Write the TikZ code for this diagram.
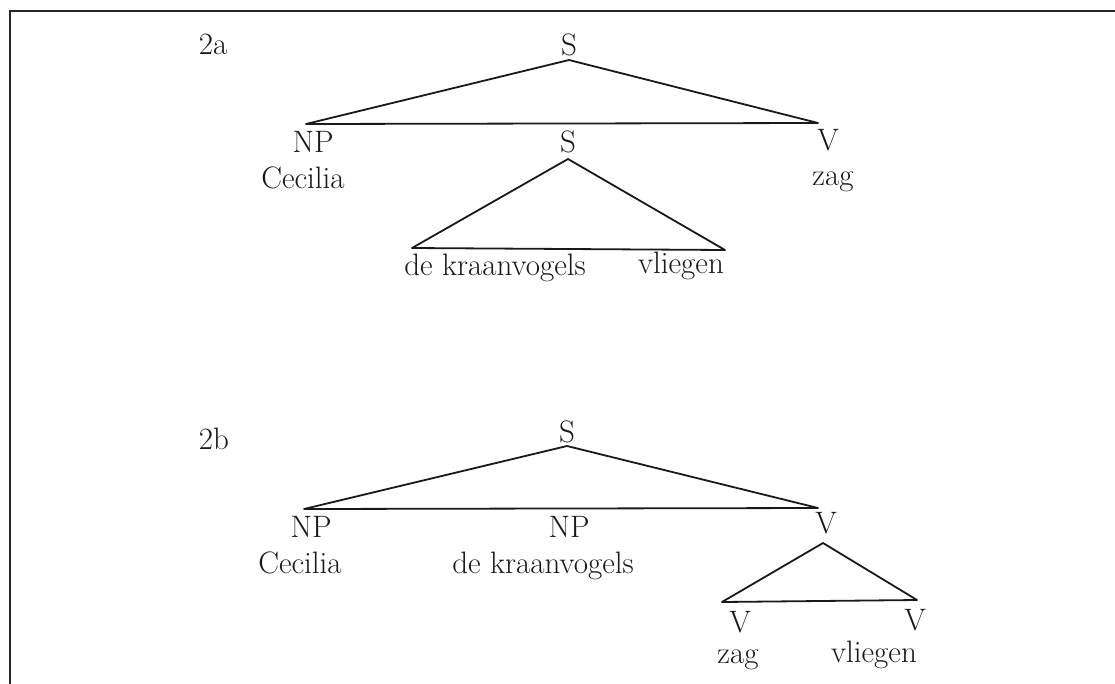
\documentclass[tikz,border=0pt]{standalone}
\begin{document}
\begin{tikzpicture}[x=1pt,y=-1pt,
  lbl/.style={inner sep=0pt,anchor=base,font=\fontsize{31}{36}\selectfont,text=black!90},
  tree/.style={line width=1.8pt,line join=round,draw=black!90},
  frame/.style={line width=2pt,draw=black!85}]
\useasboundingbox (0,0) rectangle (1115,683);
\draw[frame] (10,690) -- (10,11) -- (1120,11);

% ---- 2a ----
\node[lbl] (l2a) at (213,54) {2a};
\node[lbl] (s1) at (569,55) {S};
\node[lbl] (np1) at (313,152) {NP};
\node[lbl] (cec1) at (303,188) {Cecilia};
\node[lbl] (v1) at (828,150) {V};
\node[lbl] (zag1) at (833,185) {zag};
\node[lbl] (s2) at (568,152) {S};
\node[lbl] (dk1) at (495,275) {de kraanvogels};
\node[lbl] (vl1) at (681,273) {vliegen};

\coordinate (t1a) at (569,60);
\coordinate (t1l) at (306,124);
\coordinate (t1r) at (818,123);
\draw[tree] (t1a) -- (t1l) -- (t1r) -- cycle;

\coordinate (t2a) at (568,159);
\coordinate (t2l) at (412,248);
\coordinate (t2r) at (725,250);
\draw[tree] (t2a) -- (t2l) -- (t2r) -- cycle;

% ---- 2b ----
\node[lbl] (l2b) at (214,449) {2b};
\node[lbl] (s3) at (567,442) {S};
\node[lbl] (np2) at (311,537) {NP};
\node[lbl] (cec2) at (300,573) {Cecilia};
\node[lbl] (np3) at (569,537) {NP};
\node[lbl] (dk2) at (543,573) {de kraanvogels};
\node[lbl] (v2) at (826,533) {V};
\node[lbl] (v3) at (740,632) {V};
\node[lbl] (v4) at (915,630) {V};
\node[lbl] (zag2) at (738,663) {zag};
\node[lbl] (vl2) at (874,662) {vliegen};

\coordinate (t3a) at (567,446);
\coordinate (t3l) at (304,509);
\coordinate (t3r) at (818,508);
\draw[tree] (t3a) -- (t3l) -- (t3r) -- cycle;

\coordinate (t4a) at (823,543);
\coordinate (t4l) at (722,602);
\coordinate (t4r) at (917,600);
\draw[tree] (t4a) -- (t4l) -- (t4r) -- cycle;
\end{tikzpicture}
\end{document}
